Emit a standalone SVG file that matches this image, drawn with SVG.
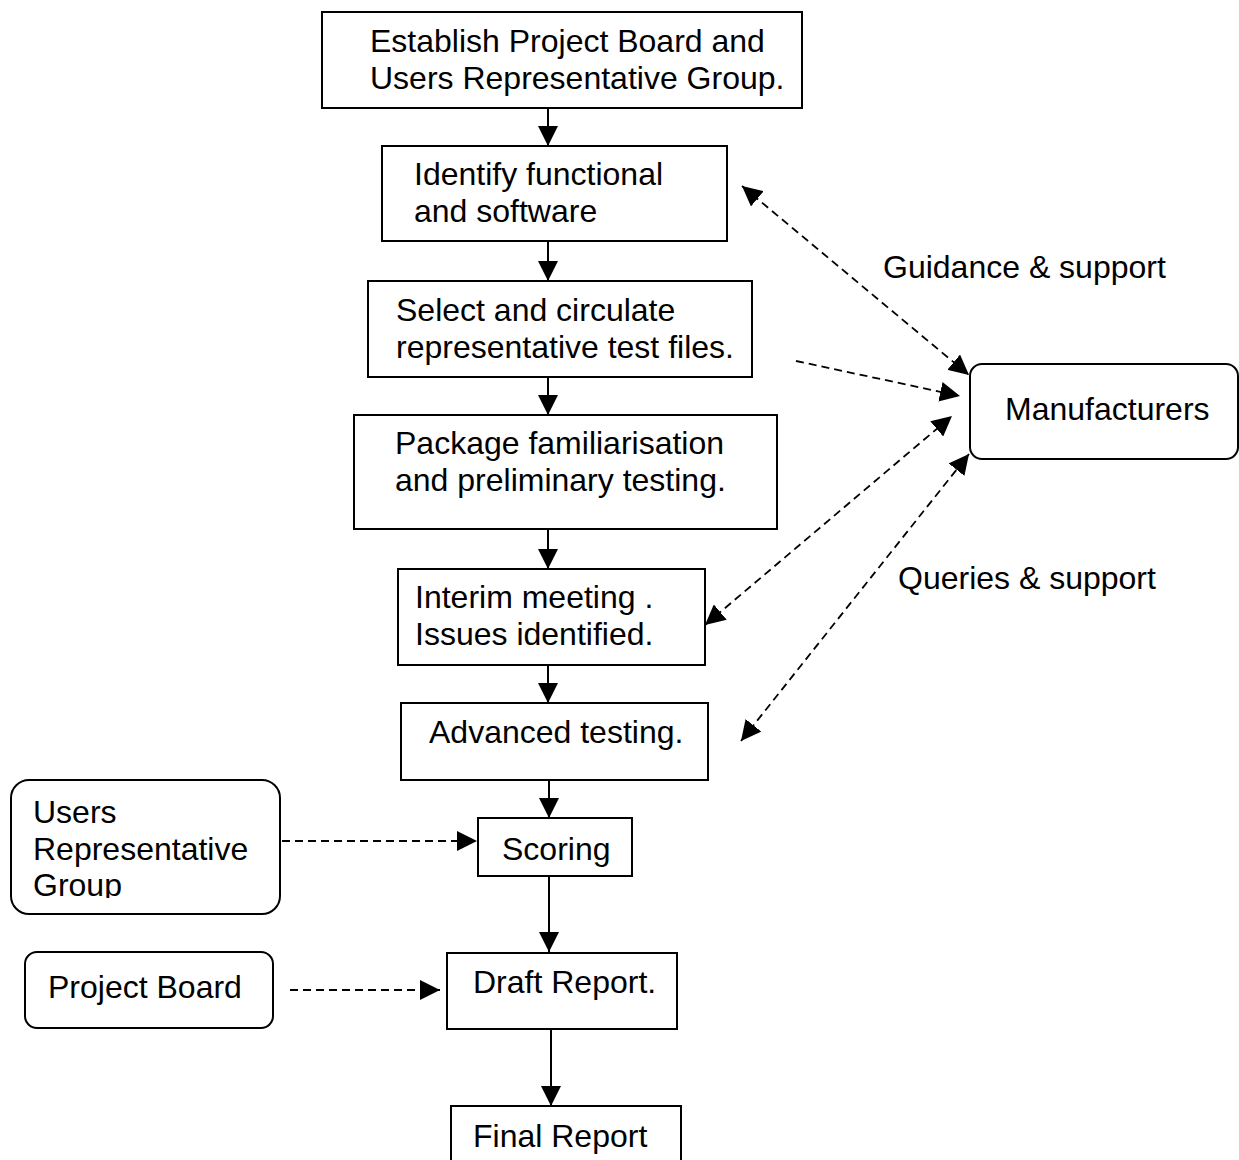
<svg xmlns="http://www.w3.org/2000/svg" width="1239" height="1160" viewBox="0 0 1239 1160">
<style>
text{font-family:"Liberation Sans",Arial,sans-serif;font-size:32px;fill:#000}
.box{fill:#fff;stroke:#000;stroke-width:2}
.c{stroke:#000;stroke-width:2;fill:none}
.d{stroke:#000;stroke-width:1.8;fill:none;stroke-dasharray:8,5}
</style>
<defs>
<marker id="ah" markerUnits="userSpaceOnUse" markerWidth="20" markerHeight="20" refX="20" refY="10" orient="auto-start-reverse" viewBox="0 0 20 20">
<path d="M0,0 L20,10 L0,20 z" fill="#000"/>
</marker>
<clipPath id="urgClip"><rect x="11" y="780" width="270" height="118"/></clipPath>
</defs>
<rect width="1239" height="1160" fill="#fff"/>
<g id="connectors">
<line class="c" x1="548" y1="108" x2="548" y2="146" marker-end="url(#ah)"/>
<line class="c" x1="548" y1="241" x2="548" y2="281" marker-end="url(#ah)"/>
<line class="c" x1="548" y1="377" x2="548" y2="415" marker-end="url(#ah)"/>
<line class="c" x1="548" y1="529" x2="548" y2="569" marker-end="url(#ah)"/>
<line class="c" x1="548" y1="665" x2="548" y2="703" marker-end="url(#ah)"/>
<line class="c" x1="549" y1="780" x2="549" y2="818" marker-end="url(#ah)"/>
<line class="c" x1="549" y1="876" x2="549" y2="952" marker-end="url(#ah)"/>
<line class="c" x1="551" y1="1029" x2="551" y2="1106" marker-end="url(#ah)"/>
<line class="d" x1="742" y1="186" x2="969" y2="375" marker-start="url(#ah)" marker-end="url(#ah)"/>
<line class="d" x1="796" y1="361" x2="960" y2="396" marker-end="url(#ah)"/>
<line class="d" x1="705" y1="625" x2="952" y2="416" marker-start="url(#ah)" marker-end="url(#ah)"/>
<line class="d" x1="741" y1="741" x2="969" y2="454" marker-start="url(#ah)" marker-end="url(#ah)"/>
<line class="d" x1="282" y1="841" x2="477" y2="841" marker-end="url(#ah)"/>
<line class="d" x1="290" y1="990" x2="440" y2="990" marker-end="url(#ah)"/>
</g>
<g id="n1"><rect class="box" x="322" y="12" width="480" height="96"/><text x="370" y="52">Establish Project Board and</text><text x="370" y="89">Users Representative Group.</text></g>
<g id="n2"><rect class="box" x="382" y="146" width="345" height="95"/><text x="414" y="185">Identify functional</text><text x="414" y="222">and software</text></g>
<g id="n3"><rect class="box" x="368" y="281" width="384" height="96"/><text x="396" y="321">Select and circulate</text><text x="396" y="358">representative test files.</text></g>
<g id="n4"><rect class="box" x="354" y="415" width="423" height="114"/><text x="395" y="454">Package familiarisation</text><text x="395" y="491">and preliminary testing.</text></g>
<g id="n5"><rect class="box" x="398" y="569" width="307" height="96"/><text x="415" y="608">Interim meeting .</text><text x="415" y="645">Issues identified.</text></g>
<g id="n6"><rect class="box" x="401" y="703" width="307" height="77"/><text x="429" y="743">Advanced testing.</text></g>
<g id="n7"><rect class="box" x="478" y="818" width="154" height="58"/><text x="502" y="860">Scoring</text></g>
<g id="n8"><rect class="box" x="447" y="953" width="230" height="76"/><text x="473" y="993">Draft Report.</text></g>
<g id="n9"><rect class="box" x="451" y="1106" width="230" height="70"/><text x="473" y="1147">Final Report</text></g>
<g id="n10"><rect class="box" x="970" y="364" width="268" height="95" rx="12"/><text x="1005" y="420">Manufacturers</text></g>
<g id="n11"><rect class="box" x="11" y="780" width="269" height="134" rx="18"/><g clip-path="url(#urgClip)"><text x="33" y="823">Users</text><text x="33" y="860">Representative</text><text x="33" y="896">Group</text></g></g>
<g id="n12"><rect class="box" x="25" y="952" width="248" height="76" rx="12"/><text x="48" y="998">Project Board</text></g>
<g id="labels"><text x="883" y="278">Guidance &amp; support</text><text x="898" y="589">Queries &amp; support</text></g>
</svg>
